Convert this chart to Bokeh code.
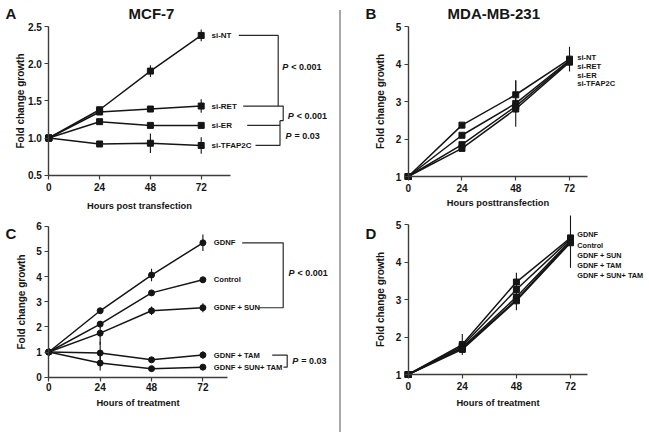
from bokeh.plotting import figure
from bokeh.layouts import row, column
from bokeh.models import Range1d, FixedTicker, PrintfTickFormatter, Div
from bokeh.core.properties import value
from bokeh.embed import file_html
from bokeh.resources import INLINE

FONT = "Liberation Sans"
INK = "#151515"
AXC = "#3c3c3c"

hours = [0, 24, 48, 72]

# ---------------- Panel A : MCF-7 (siRNA) ----------------
a_names = ["si-NT", "si-RET", "si-ER", "si-TFAP2C"]
a_si_nt = [1.00, 1.38, 1.90, 2.38]
a_si_ret = [1.00, 1.35, 1.39, 1.43]
a_si_er = [1.00, 1.22, 1.17, 1.17]
a_si_tfap2c = [1.00, 0.92, 0.93, 0.90]
a_err_nt = [0, 0.04, 0.08, 0.08]
a_err_ret = [0, 0.03, 0.02, 0.09]
a_err_er = [0, 0.02, 0.02, 0.02]
a_err_tfap2c = [0, 0.03, 0.13, 0.11]
a_yticks = [0.5, 1.0, 1.5, 2.0, 2.5]

# ---------------- Panel B : MDA-MB-231 (siRNA) ----------------
b_names = ["si-NT", "si-RET", "si-ER", "si-TFAP2C"]
b_si_nt = [1.00, 2.37, 3.18, 4.13]
b_si_ret = [1.00, 2.10, 2.95, 4.10]
b_si_er = [1.00, 1.85, 2.87, 4.08]
b_si_tfap2c = [1.00, 1.75, 2.80, 4.05]
b_err_nt = [0, 0.07, 0.38, 0.33]
b_err_ret = [0, 0.04, 0.62, 0.10]
b_err_er = [0, 0.05, 0.10, 0.10]
b_err_tfap2c = [0, 0.05, 0.10, 0.10]
b_yticks = [1, 2, 3, 4, 5]

# ---------------- Panel C : MCF-7 (treatment) ----------------
c_names = ["GDNF", "Control", "GDNF + SUN", "GDNF + TAM", "GDNF + SUN+ TAM"]
c_gdnf = [1.00, 2.64, 4.06, 5.34]
c_control = [1.00, 2.11, 3.35, 3.87]
c_gdnf_sun = [1.00, 1.75, 2.64, 2.76]
c_gdnf_tam = [1.00, 0.96, 0.69, 0.88]
c_gdnf_sun_tam = [1.00, 0.56, 0.34, 0.40]
c_err_gdnf = [0, 0.10, 0.25, 0.33]
c_err_control = [0, 0.12, 0.10, 0.12]
c_err_gdnf_sun = [0, 0.46, 0.17, 0.18]
c_err_gdnf_tam = [0, 0.45, 0.08, 0.15]
c_err_gdnf_sun_tam = [0, 0.29, 0.08, 0.10]
c_yticks = [0, 1, 2, 3, 4, 5, 6]

# ---------------- Panel D : MDA-MB-231 (treatment) ----------------
d_names = ["GDNF", "Control", "GDNF + SUN", "GDNF + TAM", "GDNF + SUN+ TAM"]
d_gdnf = [1.00, 1.80, 3.47, 4.65]
d_control = [1.00, 1.76, 3.27, 4.62]
d_gdnf_sun = [1.00, 1.72, 3.07, 4.58]
d_gdnf_tam = [1.00, 1.70, 3.00, 4.55]
d_gdnf_sun_tam = [1.00, 1.67, 2.97, 4.52]
d_err_gdnf = [0, 0.28, 0.25, 0.80]
d_err_control = [0, 0.06, 0.10, 0.10]
d_err_gdnf_sun = [0, 0.06, 0.10, 0.10]
d_err_gdnf_tam = [0, 0.06, 0.28, 0.10]
d_err_gdnf_sun_tam = [0, 0.06, 0.10, 0.10]
d_yticks = [1, 2, 3, 4, 5]


class Panel:
    """Frame covers the whole figure; axes are pinned with fixed_location."""

    def __init__(self, org, W, H, ax_px, h72_px, ytop, ybot, xend_px,
                 yticks, yfmt, xlabel, ylab_so, xtick_so, xlab_so, lab_size):
        ox, oy = org
        self.ox, self.oy = ox, oy
        self.ax = ax_px - ox
        self.pph = (h72_px - ax_px) / 72.0
        self.lab_size = lab_size
        (tv, tp), (bv, bp) = ytop, ybot
        self.tv, self.tp = tv, tp - oy
        self.bv, self.bp = bv, bp - oy
        self.ppu = (self.bp - self.tp) / (tv - bv)
        x0 = -self.ax / self.pph
        x1 = x0 + W / self.pph
        y1 = tv + self.tp / self.ppu
        y0 = bv - (H - self.bp) / self.ppu
        p = figure(width=W, height=H, x_range=Range1d(x0, x1), y_range=Range1d(y0, y1),
                   output_backend="svg", toolbar_location=None, title=None,
                   min_border=0)
        p.outline_line_color = None
        p.xgrid.visible = False
        p.ygrid.visible = False
        p.background_fill_color = "white"
        p.border_fill_color = "white"
        xa, ya = p.xaxis[0], p.yaxis[0]
        xa.ticker = FixedTicker(ticks=hours, minor_ticks=[])
        ya.ticker = FixedTicker(ticks=yticks, minor_ticks=[])
        ya.formatter = PrintfTickFormatter(format=yfmt)
        xa.bounds = (0, (xend_px - ax_px) / self.pph)
        ya.bounds = (bv, tv)
        xa.fixed_location = bv
        ya.fixed_location = 0
        for a in (xa, ya):
            a.axis_line_color = AXC
            a.axis_line_width = 1.4
            a.major_tick_line_color = AXC
            a.major_tick_line_width = 1.2
            a.major_tick_in = 0
            a.major_tick_out = 4
            a.minor_tick_line_color = None
            a.major_label_text_font = FONT
            a.major_label_text_font_size = "10px"
            a.major_label_text_font_style = "bold"
            a.major_label_text_color = INK
            a.axis_label_text_font = FONT
            a.axis_label_text_font_style = "bold"
            a.axis_label_text_color = INK
        xa.axis_label = xlabel
        xa.axis_label_text_font_size = "9.3px"
        xa.major_label_standoff = xtick_so
        xa.axis_label_standoff = xlab_so
        ya.axis_label = "Fold change growth"
        ya.axis_label_text_font_size = "10px"
        ya.major_label_standoff = 3
        ya.axis_label_standoff = ylab_so
        self.p = p

    def X(self, page_x):
        return (page_x - self.ox - self.ax) / self.pph

    def Y(self, page_y):
        return self.tv - (page_y - self.oy - self.tp) / self.ppu

    def text(self, page_x, y, s, size=None, align="left", style="bold", x_offset=0):
        self.p.text(x=[self.X(page_x)], y=[y], text=[s], text_font=value(FONT),
                    text_font_size=size or self.lab_size, text_font_style=style,
                    text_align=align, text_baseline="middle", text_color=INK,
                    x_offset=x_offset)

    def series(self, vals, errs, marker):
        p = self.p
        p.line(hours, vals, line_color=INK, line_width=1.5)
        xs = [h for h, e in zip(hours, errs) if e > 0]
        lo = [v - e for v, e in zip(vals, errs) if e > 0]
        hi = [v + e for v, e in zip(vals, errs) if e > 0]
        p.segment(x0=xs, y0=lo, x1=xs, y1=hi, line_color=INK, line_width=1.1)
        p.scatter(hours, vals, marker=marker, size=6, fill_color=INK, line_color=INK)

    def ptext(self, page_x, y, rest):
        self.text(page_x, y, "P", size="9px", style="bold italic")
        self.text(page_x, y, rest, size="9px", x_offset=9)

    def bracket(self, pts):
        self.p.line([self.X(px) for px, _ in pts], [y for _, y in pts],
                    line_color="#2a2a2a", line_width=1.2)


# ---------- Panel A ----------
A = Panel((0, 0), 339, 215, 48.3, 200.7, (2.5, 26), (0.5, 174.7), 230,
          a_yticks, "%.1f", "Hours post transfection", -1, 4, 6, "8px")
for v, e in zip([a_si_nt, a_si_ret, a_si_er, a_si_tfap2c],
                [a_err_nt, a_err_ret, a_err_er, a_err_tfap2c]):
    A.series(v, e, "square")
last_a = [s[-1] for s in (a_si_nt, a_si_ret, a_si_er, a_si_tfap2c)]
for name, y in zip(a_names, last_a):
    A.text(211, y, name)
nt, ret, er, tf = last_a
mid = er + (ret - er) * 0.25
A.bracket([(238.3, nt), (277.7, nt), (277.7, ret)])
A.bracket([(242.7, ret), (282.7, ret), (282.7, mid), (279.5, mid)])
A.bracket([(246.7, er), (279.5, er)])
A.bracket([(255, tf), (279.5, tf), (279.5, mid)])
A.ptext(281.7, A.Y(66.7), "< 0.001")
A.ptext(287.3, A.Y(115.7), "< 0.001")
A.ptext(285, A.Y(135.7), "= 0.03")
A.text(5, A.Y(13), "A", size="15px")
A.text(151, A.Y(13), "MCF-7", size="15px", align="center")

# ---------- Panel B ----------
B = Panel((341, 0), 308, 215, 407.7, 569, (5, 26), (1, 176), 586.7,
          b_yticks, "%d", "Hours posttransfection", 7, 3, 3, "7.6px")
for v, e in zip([b_si_nt, b_si_ret, b_si_er, b_si_tfap2c],
                [b_err_nt, b_err_ret, b_err_er, b_err_tfap2c]):
    B.series(v, e, "square")
for i, name in enumerate(b_names):
    B.text(576.7, B.Y(56.7 + i * 8.9), name)
B.text(365, B.Y(13), "B", size="15px")
B.text(493.3, B.Y(13), "MDA-MB-231", size="15px", align="center")

# ---------- Panel C ----------
C = Panel((0, 215), 339, 221, 48.3, 202.4, (6, 225.7), (0, 376.7), 226.7,
          c_yticks, "%d", "Hours of treatment", 6, 2, 3, "7.6px")
for v, e in zip([c_gdnf, c_control, c_gdnf_sun, c_gdnf_tam, c_gdnf_sun_tam],
                [c_err_gdnf, c_err_control, c_err_gdnf_sun, c_err_gdnf_tam, c_err_gdnf_sun_tam]):
    C.series(v, e, "circle")
last_c = [s[-1] for s in (c_gdnf, c_control, c_gdnf_sun, c_gdnf_tam, c_gdnf_sun_tam)]
for name, y in zip(c_names, last_c):
    C.text(213.3, y, name)
g, ctl, gs, gt, gst = last_c
C.bracket([(241.7, g), (282.7, g), (282.7, gs), (258, gs)])
C.bracket([(271.7, gt), (286.7, gt), (286.7, gst), (283, gst)])
C.ptext(288, C.Y(272.3), "< 0.001")
C.ptext(291.7, C.Y(360.7), "= 0.03")
C.text(5, C.Y(233), "C", size="15px")

# ---------- Panel D ----------
D = Panel((341, 215), 308, 221, 407.7, 570, (5, 224.3), (1, 374), 586.7,
          d_yticks, "%d", "Hours of treatment", 7, 3, 5, "7.3px")
for v, e in zip([d_gdnf, d_control, d_gdnf_sun, d_gdnf_tam, d_gdnf_sun_tam],
                [d_err_gdnf, d_err_control, d_err_gdnf_sun, d_err_gdnf_tam, d_err_gdnf_sun_tam]):
    D.series(v, e, "square")
for i, name in enumerate(d_names):
    D.text(576.7, D.Y(234.3 + i * 10.2), name)
D.text(365, D.Y(233), "D", size="15px")

sep = Div(text="", width=2, height=422, margin=(10, 0, 0, 0),
          styles={"background-color": "#a8a8a8"})

layout = row(column(A.p, C.p, spacing=0), sep, column(B.p, D.p, spacing=0), spacing=0)

open("out.html", "w").write(file_html(layout, INLINE))
